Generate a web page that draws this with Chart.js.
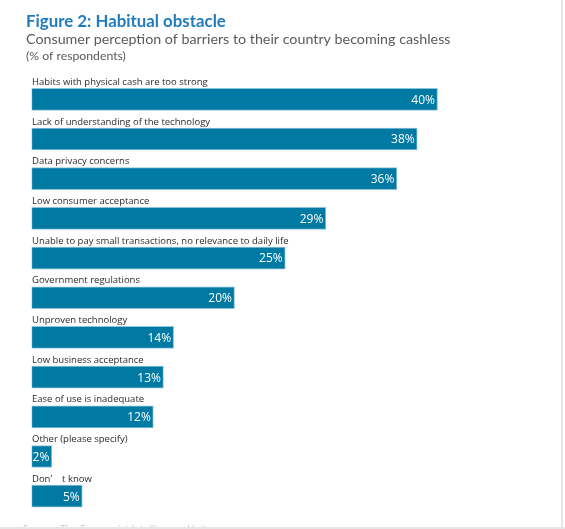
<!DOCTYPE html>
<html>
<head>
<meta charset="utf-8">
<script src="https://cdn.jsdelivr.net/npm/chart.js@4"></script>
<style>
  html, body { margin: 0; padding: 0; background: #fff; }
  #wrap { position: relative; width: 565px; height: 529px; overflow: hidden; }
  #edgeR { position: absolute; left: 561px; top: 0; width: 2px; height: 529px; background: #e6e6e6; }
  #edgeB { position: absolute; left: 0; top: 527px; width: 565px; height: 2px; background: #e6e6e6; }
</style>
</head>
<body>
<div id="wrap">
  <canvas id="grafica_barreras" width="565" height="529"></canvas>
  <div id="edgeR"></div>
  <div id="edgeB"></div>
</div>
<script>
var categorias = [
    'Habits with physical cash are too strong',
    'Lack of understanding of the technology',
    'Data privacy concerns',
    'Low consumer acceptance',
    'Unable to pay small transactions, no relevance to daily life',
    'Government regulations',
    'Unproven technology',
    'Low business acceptance',
    'Ease of use is inadequate',
    'Other (please specify)',
    'Don\u2019\u3000t know'
];
var valores = [40, 38, 36, 29, 25, 20, 14, 13, 12, 2, 5];
var tituloTexto = 'Figure 2: Habitual obstacle';
var subtituloTexto = 'Consumer perception of barriers to their country becoming cashless';
var unidadTexto = '(% of respondents)';
var fuenteTexto = 'Source: The Economist Intelligence Unit';

var fuente = '"Open Sans", "Noto Sans", sans-serif';
var fuenteTitulo = 'Lato, "Open Sans", sans-serif';

//-- ajusta el tamaño de letra para que el texto ocupe el ancho dado
function textoAjustado(ctx, texto, peso, tamano, ancho, x, y){
    ctx.font = peso + tamano + 'px ' + fuenteTitulo;
    var w = ctx.measureText(texto).width;
    var t = tamano * ancho / w;
    ctx.font = peso + t + 'px ' + fuenteTitulo;
    ctx.fillText(texto, x, y);
}

//-- textos de cabecera, etiquetas de categoria y valores
var textosPlugin = {
    id: 'textos',
    afterDatasetsDraw: function(chart){
        var ctx = chart.ctx;
        var meta = chart.getDatasetMeta(0);
        ctx.save();
        ctx.textBaseline = 'alphabetic';
        ctx.textAlign = 'left';

        ctx.fillStyle = '#1f7bbf';
        textoAjustado(ctx, tituloTexto, 'bold ', 16, 200, 26, 27);

        ctx.fillStyle = '#5a5a5a';
        textoAjustado(ctx, subtituloTexto, '', 14, 425, 26, 44);

        textoAjustado(ctx, unidadTexto, '', 11, 100, 26, 60);

        ctx.fillStyle = '#c4c4c4';
        ctx.font = '10px ' + fuente;
        ctx.fillText(fuenteTexto, 23, 533);

        meta.data.forEach(function(bar, i){
            var top = bar.y - bar.height / 2;
            ctx.fillStyle = '#2b2b2b';
            ctx.font = '9.5px ' + fuente;
            ctx.textAlign = 'left';
            ctx.fillText(categorias[i], 32, top - 3.5);

            ctx.fillStyle = '#ffffff';
            ctx.font = '12px ' + fuente;
            ctx.textAlign = 'right';
            ctx.textBaseline = 'middle';
            ctx.fillText(valores[i] + '%', bar.x - 2.5, bar.y + 1);
            ctx.textBaseline = 'alphabetic';
        });
        ctx.restore();
    }
};

var canvas = document.getElementById('grafica_barreras');

var dataBar = {
    labels: categorias,
    datasets: [{
        data: valores,
        backgroundColor: '#0079a3',
        borderColor: '#8cc3dc',
        borderWidth: 1,
        borderSkipped: false,
        barThickness: 22
    }]
};

var chartOptions = {
    indexAxis: 'y',
    responsive: false,
    animation: false,
    devicePixelRatio: 1,
    layout: {
        padding: { left: 31.5, right: 26, top: 79.5, bottom: 13 }
    },
    plugins: {
        legend: { display: false },
        tooltip: { enabled: false }
    },
    scales: {
        x: { display: false, min: 0, max: 50 },
        y: { display: false }
    }
};

new Chart(canvas, {
    type: 'bar',
    data: dataBar,
    options: chartOptions,
    plugins: [textosPlugin]
});
</script>
</body>
</html>
